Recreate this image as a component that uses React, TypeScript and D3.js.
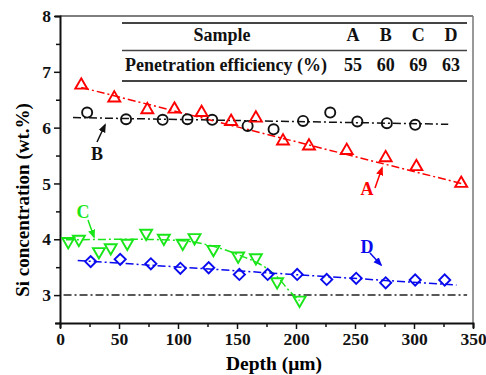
import { useEffect, useRef } from "react";
import * as d3 from "d3";

// depth (um) and Si concentration (wt.%)
const depthA = [18, 46, 74, 97, 120, 145, 166, 189, 211, 243, 276, 302, 340];
const siA = [6.76, 6.53, 6.32, 6.33, 6.27, 6.11, 6.17, 5.76, 5.67, 5.59, 5.46, 5.3, 5.0];

const depthB = [23, 56, 87, 108, 129, 159, 181, 206, 229, 252, 277, 301];
const siB = [6.27, 6.15, 6.14, 6.15, 6.14, 6.03, 5.97, 6.12, 6.27, 6.11, 6.08, 6.05];

const depthC = [7, 16, 33, 43, 57, 73, 88, 104, 114, 130, 151, 166, 184, 203];
const siC = [3.96, 4.0, 3.78, 3.85, 3.93, 4.11, 4.02, 3.93, 4.03, 3.82, 3.7, 3.67, 3.24, 2.91];

const depthD = [26, 51, 77, 102, 126, 152, 176, 201, 226, 251, 276, 301, 326];
const siD = [3.6, 3.64, 3.56, 3.48, 3.49, 3.37, 3.37, 3.37, 3.28, 3.3, 3.22, 3.27, 3.27];

// fitted trend lines (dash-dot)
const fitA: [number, number][] = [[18, 6.72], [340, 5.0]];
const fitB: [number, number][] = [[11, 6.18], [329, 6.06]];
const fitC: [number, number][] = [[5, 3.99], [60, 4.0], [100, 3.98], [125, 3.9], [155, 3.69], [168, 3.57], [184, 3.33], [195, 3.06], [203, 2.9]];
const fitD: [number, number][] = [[15, 3.62], [336, 3.18]];
const refLine: [number, number][] = [[3, 3.0], [345, 3.0]];

const samples = ["A", "B", "C", "D"];
const efficiency = ["55", "60", "69", "63"];

const xTicks = [0, 50, 100, 150, 200, 250, 300, 350];
const yTicks = [3, 4, 5, 6, 7, 8];

const RED = "#ff0000";
const GREEN = "#19e619";
const BLUE = "#0a0aee";
const DASH = "8,3,2,3";
const FONT = "Liberation Serif, DejaVu Serif, Times New Roman, serif";

export default function App() {
    const svgRef = useRef<SVGSVGElement | null>(null);

    useEffect(() => {
        if (!svgRef.current) return;
        const svg = d3.select<SVGSVGElement, unknown>(svgRef.current);
        svg.selectAll("*").remove();

        const x = d3.scaleLinear().domain([0, 350]).range([60, 473]);
        const y = d3.scaleLinear().domain([2.5, 8]).range([323, 16]);

        // frame
        svg.append("line").attr("x1", 60).attr("x2", 473).attr("y1", 16).attr("y2", 16)
            .attr("stroke", "#555").attr("stroke-width", 1.5);
        svg.append("line").attr("x1", 473).attr("x2", 473).attr("y1", 16).attr("y2", 323)
            .attr("stroke", "#777").attr("stroke-width", 1.5);

        // axes
        const xAxis = svg.append("g").attr("transform", "translate(0,323)")
            .call(d3.axisBottom(x).tickValues(d3.range(0, 351, 25)).tickSize(5).tickFormat(() => ""));
        xAxis.selectAll(".tick line").attr("y2", (d: any) => (d % 50 === 0 ? 6 : 4));
        svg.append("g").attr("transform", "translate(0,323)")
            .call(d3.axisBottom(x).tickValues(xTicks).tickSize(0).tickPadding(10))
            .call((g) => g.select(".domain").remove());

        const yAxis = svg.append("g").attr("transform", "translate(60,0)")
            .call(d3.axisLeft(y).tickValues(d3.range(2.5, 8.01, 0.5)).tickSize(5).tickFormat(() => ""));
        yAxis.selectAll(".tick line").attr("x2", (d: any) => (Math.abs(d % 1) < 1e-6 ? -6 : -4));
        svg.append("g").attr("transform", "translate(60,0)")
            .call(d3.axisLeft(y).tickValues(yTicks).tickSize(0).tickPadding(9).tickFormat(d3.format("d")))
            .call((g) => g.select(".domain").remove());

        svg.selectAll(".domain").attr("stroke", "#111").attr("stroke-width", 2);
        svg.selectAll(".tick line").attr("stroke", "#111").attr("stroke-width", 1.5);
        svg.selectAll("g").attr("font-family", null);
        svg.selectAll(".tick text").style("font-family", FONT).attr("font-weight", "bold")
            .attr("font-size", 17.5).attr("fill", "#111");

        const label = (sel: d3.Selection<SVGTextElement, unknown, null, undefined>, size: number) =>
            sel.style("font-family", FONT).attr("font-weight", "bold").attr("font-size", size);

        // axis titles
        label(svg.append("text").attr("x", 274).attr("y", 370).attr("text-anchor", "middle"), 19.5)
            .text("Depth (\u03bcm)");
        label(svg.append("text").attr("transform", "translate(29,200) rotate(-90)").attr("text-anchor", "middle"), 19)
            .text("Si concentration (wt.%)");

        // fit lines
        const line = d3.line<[number, number]>().x((d) => x(d[0])).y((d) => y(d[1]));
        const smooth = d3.line<[number, number]>().x((d) => x(d[0])).y((d) => y(d[1])).curve(d3.curveMonotoneX);
        const drawFit = (pts: [number, number][], color: string, gen = line) =>
            svg.append("path").attr("d", gen(pts)).attr("fill", "none").attr("stroke", color)
                .attr("stroke-width", 1.5).attr("stroke-dasharray", DASH);
        drawFit(refLine, "#222");
        drawFit(fitB, "#111");
        drawFit(fitA, RED);
        drawFit(fitC, GREEN, smooth);
        drawFit(fitD, BLUE);

        // markers
        const drawSeries = (xs: number[], ys: number[], type: d3.SymbolType, size: number, rot: number, color: string) => {
            const sym = d3.symbol().type(type).size(size);
            svg.append("g").selectAll("path").data(xs).join("path")
                .attr("d", sym() as string)
                .attr("transform", (d, i) => `translate(${x(d)},${y(ys[i])}) rotate(${rot})`)
                .attr("fill", "none").attr("stroke", color).attr("stroke-width", 1.9);
        };
        drawSeries(depthB, siB, d3.symbolCircle, 80, 0, "#111");
        drawSeries(depthA, siA, d3.symbolTriangle, 62, 0, RED);
        drawSeries(depthC, siC, d3.symbolTriangle, 62, 180, GREEN);
        drawSeries(depthD, siD, d3.symbolSquare, 62, 45, BLUE);

        // annotations with arrows
        const defs = svg.append("defs");
        const addHead = (id: string, color: string) =>
            defs.append("marker").attr("id", id).attr("viewBox", "0 0 10 10").attr("refX", 8).attr("refY", 5)
                .attr("markerWidth", 6).attr("markerHeight", 6).attr("orient", "auto")
                .append("path").attr("d", "M0,1 L10,5 L0,9 Z").attr("fill", color);
        addHead("hB", "#111");
        addHead("hA", RED);
        addHead("hC", GREEN);
        addHead("hD", BLUE);
        const note = (txt: string, tx: number, ty: number, ax1: number, ay1: number, ax2: number, ay2: number, color: string, id: string) => {
            svg.append("line").attr("x1", ax1).attr("y1", ay1).attr("x2", ax2).attr("y2", ay2)
                .attr("stroke", color).attr("stroke-width", 1.5).attr("marker-end", `url(#${id})`);
            label(svg.append("text").attr("x", tx).attr("y", ty).attr("text-anchor", "middle"), 18)
                .attr("fill", color).text(txt);
        };
        note("B", 97, 160, 97, 142, 105, 125, "#111", "hB");
        note("A", 367, 195, 375, 188, 382, 168, RED, "hA");
        note("C", 83, 218, 88, 220, 94, 237, GREEN, "hC");
        note("D", 367, 253, 370, 253, 381, 265, BLUE, "hD");

        // table
        const rule = (yy: number, w: number) =>
            svg.append("line").attr("x1", 122).attr("x2", 467).attr("y1", yy).attr("y2", yy)
                .attr("stroke", "#444").attr("stroke-width", w);
        rule(23, 2);
        rule(50.5, 1.6);
        rule(81, 2);
        const tText = (s: string, tx: number, ty: number, anchor = "middle") =>
            label(svg.append("text").attr("x", tx).attr("y", ty).attr("text-anchor", anchor), 18)
                .attr("fill", "#111").text(s);
        tText("Sample", 222, 41);
        tText("Penetration efficiency (%)", 125, 71, "start");
        const colX = d3.scalePoint<string>().domain(samples).range([353, 451]);
        samples.forEach((s, i) => {
            tText(s, colX(s) as number, 41);
            tText(efficiency[i], colX(s) as number, 71);
        });
    }, []);

    return <svg ref={svgRef} width={486} height={375} style={{ position: "absolute", left: 0, top: 0 }} />;
}
